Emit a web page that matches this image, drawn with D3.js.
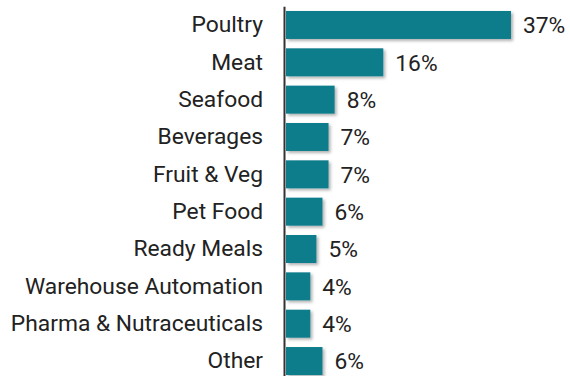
<!DOCTYPE html>
<html>
<head>
<meta charset="utf-8">
<script src="https://cdn.jsdelivr.net/npm/d3@7"></script>
<style>
  html, body { margin: 0; padding: 0; background: #fff; }
  svg { display: block; }
</style>
</head>
<body>
<svg id="chart" width="570" height="376"></svg>
<script>
const categories = ["Poultry", "Meat", "Seafood", "Beverages", "Fruit & Veg", "Pet Food", "Ready Meals", "Warehouse Automation", "Pharma & Nutraceuticals", "Other"];
const values = [37, 16, 8, 7, 7, 6, 5, 4, 4, 6];
const valueLabels = ["37%", "16%", "8%", "7%", "7%", "6%", "5%", "4%", "4%", "6%"];

const svg = d3.select("#chart");

const defs = svg.append("defs");
const f = defs.append("filter").attr("id", "shadow").attr("x", "-10%").attr("y", "-20%").attr("width", "130%").attr("height", "150%");
f.append("feDropShadow").attr("dx", 2).attr("dy", 2).attr("stdDeviation", 1.5).attr("flood-color", "#000").attr("flood-opacity", 0.3);

const y = d3.scaleBand().domain(categories).range([6.3, 379.7]).paddingInner(0.25).paddingOuter(0.125);
const x = d3.scaleLinear().domain([0, 37]).range([286, 511]);

const data = categories.map((c, i) => ({ c, v: values[i], l: valueLabels[i] }));

svg.append("g").selectAll("rect").data(data).join("rect")
  .attr("x", x(0))
  .attr("y", d => y(d.c))
  .attr("width", d => x(d.v) - x(0))
  .attr("height", y.bandwidth())
  .attr("fill", "#0f7d8c")
  .attr("filter", "url(#shadow)");

svg.append("g").selectAll("text").data(data).join("text")
  .attr("x", d => x(d.v) + 12)
  .attr("y", d => y(d.c) + y.bandwidth() / 2)
  .attr("dy", "0.36em")
  .attr("font-family", "Roboto, sans-serif")
  .attr("font-size", 22.8)
  .attr("fill", "#222")
  .text(d => d.l);

const axis = svg.append("g").attr("transform", "translate(284,0)")
  .call(d3.axisLeft(y).tickSize(0).tickPadding(21));
axis.select(".domain").attr("stroke", "#333").attr("stroke-width", 2);
axis.selectAll("text")
  .attr("font-family", "Roboto, sans-serif")
  .attr("font-size", 22.8)
  .attr("fill", "#222");
</script>
</body>
</html>
